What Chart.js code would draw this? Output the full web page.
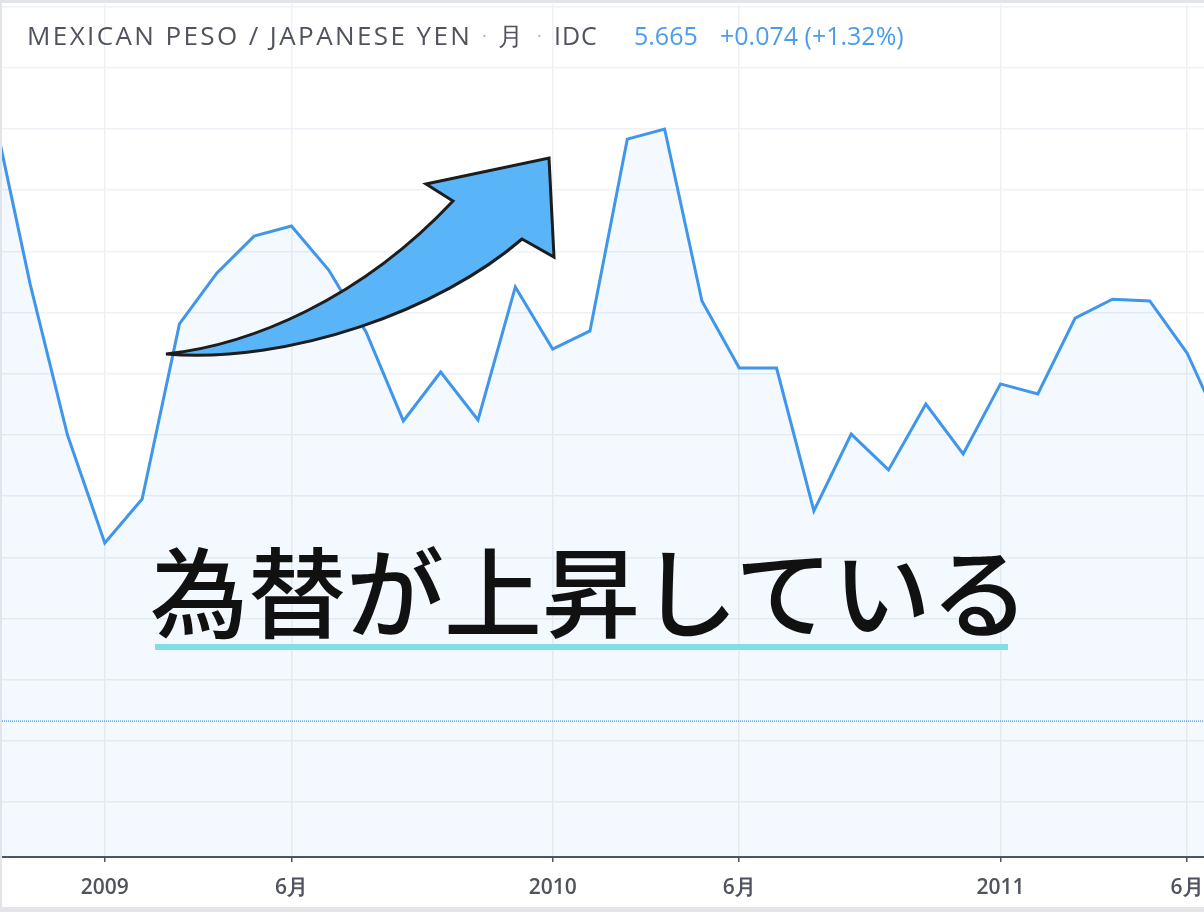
<!DOCTYPE html>
<html lang="ja">
<head>
<meta charset="utf-8">
<title>MXN/JPY 月足</title>
<script src="https://cdn.jsdelivr.net/npm/chart.js@4/dist/chart.umd.min.js"></script>
<style>
  html, body { margin: 0; padding: 0; background: #fff; }
  body { position: relative; width: 1204px; height: 912px; overflow: hidden; }
  #frame {
    position: absolute; left: 0; top: 0; width: 1204px; height: 912px; box-sizing: border-box;
    border-top: 3px solid #e3e4e8; border-left: 2px solid #e3e4e8; border-bottom: 5px solid #e3e4e8;
  }
  .hd { position: absolute; top: 20px; font-family: "Open Sans", sans-serif; font-size: 25px; line-height: 30px; white-space: nowrap; }
  .gray { color: #50535e; }
  .dot { color: #b2b5be; font-size: 18px; }
  .blue { color: #4a9ded; }
  #note {
    position: absolute; left: 150px; top: 538px; font-family: "Noto Sans CJK JP", sans-serif;
    font-weight: 500; font-size: 98px; line-height: 98px; color: #111; white-space: nowrap;
  }
  #underline { position: absolute; left: 155px; top: 644px; width: 853px; height: 6px; background: #80dfe5; }
</style>
</head>
<body>
<div id="frame"><canvas id="chart" width="1202" height="904"></canvas></div>

<div class="hd gray" style="left:27px; font-size:26px; letter-spacing:2.4px">MEXICAN PESO / JAPANESE YEN</div>
<div class="hd dot" style="left:482px">·</div>
<div class="hd gray" style="left:498px">月</div>
<div class="hd dot" style="left:537px">·</div>
<div class="hd gray" style="left:554px; letter-spacing:1px">IDC</div>
<div class="hd blue" id="price" style="left:634px"></div>
<div class="hd blue" id="change" style="left:720px"></div>

<div id="underline"></div>
<div id="note">為替が上昇している</div>

<script>
// monthly closes, MXN/JPY
const months = [
    '2008-10', '2008-11', '2008-12',
    '2009-01', '2009-02', '2009-03', '2009-04', '2009-05', '2009-06',
    '2009-07', '2009-08', '2009-09', '2009-10', '2009-11', '2009-12',
    '2010-01', '2010-02', '2010-03', '2010-04', '2010-05', '2010-06',
    '2010-07', '2010-08', '2010-09', '2010-10', '2010-11', '2010-12',
    '2011-01', '2011-02', '2011-03', '2011-04', '2011-05', '2011-06', '2011-07'
];
const closes = [
    7.664, 7.093, 6.600,
    6.247, 6.391, 6.963, 7.129, 7.250, 7.283,
    7.139, 6.937, 6.646, 6.806, 6.649, 7.084,
    6.881, 6.940, 7.567, 7.600, 7.038, 6.819,
    6.819, 6.352, 6.603, 6.486, 6.701, 6.538,
    6.767, 6.734, 6.982, 7.044, 7.038, 6.868, 6.600
];
const xTickMonths = ['2009-01', '2009-06', '2010-01', '2010-06', '2011-01', '2011-06'];
const xTickLabels = ['2009', '6月', '2010', '6月', '2011', '6月'];
const yGridValues = [5.4, 5.6, 5.8, 6.0, 6.2, 6.4, 6.6, 6.8, 7.0, 7.2, 7.4, 7.6, 7.8, 8.0];
const lastPrice = 5.665;
const lastChange = '+0.074 (+1.32%)';

document.getElementById('price').textContent = lastPrice.toFixed(3);
document.getElementById('change').textContent = lastChange;

const lineColor = '#3f96ea';
const gridColor = '#eef1f5';
const axisColor = '#50535e';

// last-price line + the hand drawn arrow on top
const overlay = {
    id: 'overlay',
    afterDatasetsDraw(chart) {
        const ctx = chart.ctx, area = chart.chartArea;
        let y = chart.scales.y.getPixelForValue(lastPrice);

        ctx.save();
        ctx.strokeStyle = '#5aa6f0';
        ctx.lineWidth = 1.5;
        ctx.setLineDash([1, 1]);
        ctx.beginPath();
        ctx.moveTo(area.left, y);
        ctx.lineTo(area.right, y);
        ctx.stroke();
        ctx.restore();

        // arrow, canvas pixels (page minus frame border)
        ctx.save();
        ctx.translate(-2, -3);
        ctx.beginPath();
        ctx.moveTo(166, 354);
        ctx.bezierCurveTo(250, 345, 360, 300, 453, 201);
        ctx.lineTo(426, 184);
        ctx.lineTo(549, 158);
        ctx.lineTo(554, 257);
        ctx.lineTo(522, 239);
        ctx.bezierCurveTo(440, 310, 290, 364, 166, 354);
        ctx.closePath();
        ctx.fillStyle = '#5ab4f8';
        ctx.fill();
        ctx.lineJoin = 'miter';
        ctx.lineWidth = 3;
        ctx.strokeStyle = '#1d1d1d';
        ctx.stroke();
        ctx.restore();
    }
};

new Chart(document.getElementById('chart'), {
    type: 'line',
    data: {
        datasets: [{
            data: closes.map((v, i) => ({x: i, y: v})),
            borderColor: lineColor,
            borderWidth: 3,
            backgroundColor: 'rgba(33,150,243,0.055)',
            fill: 'start',
            pointRadius: 0,
            tension: 0
        }]
    },
    options: {
        responsive: false,
        animation: false,
        layout: {padding: {left: 0, right: 0, top: 1, bottom: 0}},
        plugins: {legend: {display: false}, tooltip: {enabled: false}},
        scales: {
            x: {
                type: 'linear',
                min: 0.2454,
                max: 32.453,
                afterBuildTicks: (scale) => {
                    scale.ticks = xTickMonths.map(m => ({value: months.indexOf(m)}));
                },
                afterFit: (scale) => { scale.height = 50; },
                ticks: {
                    autoSkip: false,
                    maxRotation: 0,
                    padding: 0,
                    color: axisColor,
                    font: {family: 'Open Sans', size: 21, weight: '600', lineHeight: 2.5},
                    callback: (value, index) => xTickLabels[index]
                },
                grid: {color: gridColor, tickColor: axisColor, tickLength: 5, lineWidth: 1.5},
                border: {display: true, color: axisColor, width: 2}
            },
            y: {
                type: 'linear',
                position: 'right',
                min: 5.221,
                max: 8.0085,
                afterBuildTicks: (scale) => {
                    scale.ticks = yGridValues.map(v => ({value: v}));
                },
                afterFit: (scale) => { scale.width = 0; },
                ticks: {display: false},
                grid: {color: gridColor, drawTicks: false, lineWidth: 1.5},
                border: {display: false}
            }
        }
    },
    plugins: [overlay]
});
</script>
</body>
</html>
